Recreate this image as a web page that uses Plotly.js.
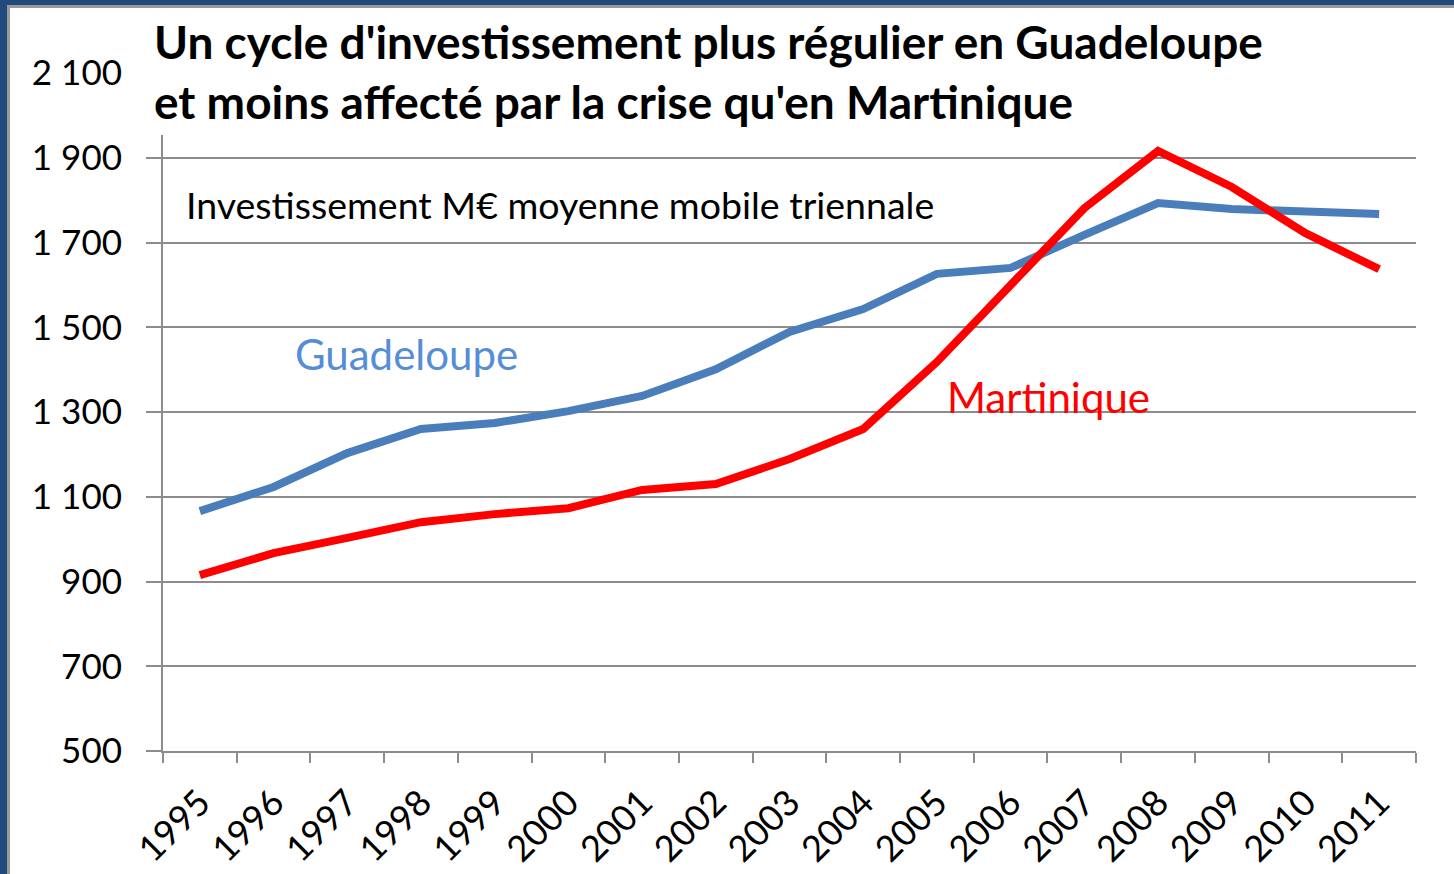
<!DOCTYPE html>
<html>
<head>
<meta charset="utf-8">
<script src="https://cdn.plot.ly/plotly-3.0.1.min.js"></script>
<style>
html,body{margin:0;padding:0;background:#fff;}
#chart{width:1454px;height:874px;}
</style>
</head>
<body>
<div id="chart"></div>
<script>
var years = ['1995','1996','1997','1998','1999','2000','2001','2002','2003','2004','2005','2006','2007','2008','2009','2010','2011'];
var guadeloupe = [1066,1123,1203,1260,1274,1302,1338,1401,1489,1543,1626,1640,1718,1793,1779,1772,1767];
var martinique = [915,967,1003,1040,1059,1073,1116,1130,1189,1260,1418,1597,1781,1916,1831,1722,1637];
var titleText = "Un cycle d'investissement plus régulier en Guadeloupe<br>et moins affecté par la crise qu'en Martinique";
var subText = "Investissement M€ moyenne mobile triennale";

var W = 1454, H = 874, L = 163, R = 38, T = 73, B = 123;
var pw = W - L - R, ph = H - T - B;
function px(x){ return (x - L) / pw; }
function py(y){ return (H - B - y) / ph; }

var font = 'Lato, "Open Sans", sans-serif';
var grey = '#8c8c8c';

var traces = [
  {x: years, y: guadeloupe, type: 'scatter', mode: 'lines', name: 'Guadeloupe',
   line: {color: '#4a7ebb', width: 8}},
  {x: years, y: martinique, type: 'scatter', mode: 'lines', name: 'Martinique',
   line: {color: '#ff0000', width: 8}}
];

var layout = {
  width: W, height: H,
  margin: {l: L, r: R, t: T, b: B},
  paper_bgcolor: '#fff', plot_bgcolor: '#fff',
  showlegend: false,
  separators: ', ',
  font: {family: font, color: '#000', size: 34},
  xaxis: {
    type: 'category', range: [-0.5, 16.5], tickson: 'boundaries',
    showgrid: false, showline: true, linecolor: grey, linewidth: 2,
    ticks: 'outside', ticklen: 10, tickcolor: grey, tickwidth: 2,
    ticklabelstandoff: 14,
    tickangle: -45, tickfont: {family: font, size: 36, color: '#000'},
    fixedrange: true
  },
  yaxis: {
    range: [500, 2100], dtick: 200, tick0: 500, separatethousands: true,
    showgrid: true, gridcolor: grey, gridwidth: 2,
    showline: true, linecolor: grey, linewidth: 2,
    ticks: 'outside', ticklen: 15, tickcolor: grey, tickwidth: 2,
    ticklabelstandoff: 17,
    tickfont: {family: font, size: 35, color: '#000'},
    zeroline: false, fixedrange: true
  },
  shapes: [
    {type: 'rect', xref: 'paper', yref: 'paper', layer: 'above',
     x0: px(140), x1: px(1261), y0: py(135), y1: py(11),
     fillcolor: '#fff', line: {width: 0}},
    {type: 'rect', xref: 'paper', yref: 'paper', layer: 'above',
     x0: px(0), x1: px(W), y0: py(0), y1: py(5),
     fillcolor: '#214a7d', line: {width: 0}},
    {type: 'rect', xref: 'paper', yref: 'paper', layer: 'above',
     x0: px(0), x1: px(7), y0: py(0), y1: py(H),
     fillcolor: '#214a7d', line: {width: 0}},
    {type: 'rect', xref: 'paper', yref: 'paper', layer: 'above',
     x0: px(7), x1: px(W), y0: py(5), y1: py(8),
     fillcolor: '#9a9a9a', line: {width: 0}},
    {type: 'rect', xref: 'paper', yref: 'paper', layer: 'above',
     x0: px(7), x1: px(10), y0: py(5), y1: py(H),
     fillcolor: '#9a9a9a', line: {width: 0}}
  ],
  annotations: [
    {xref: 'paper', yref: 'paper', x: px(152), y: py(71), xanchor: 'left', yanchor: 'middle',
     text: '<b>' + titleText + '</b>', showarrow: false, align: 'left',
     font: {family: font, size: 46, color: '#000'}},
    {xref: 'paper', yref: 'paper', x: px(184), y: py(204), xanchor: 'left', yanchor: 'middle',
     text: subText, showarrow: false, font: {family: font, size: 37.5, color: '#000'}},
    {xref: 'paper', yref: 'paper', x: px(293), y: py(354), xanchor: 'left', yanchor: 'middle',
     text: 'Guadeloupe', showarrow: false, font: {family: font, size: 42, color: '#558ed5'}},
    {xref: 'paper', yref: 'paper', x: px(945), y: py(397), xanchor: 'left', yanchor: 'middle',
     text: 'Martinique', showarrow: false, font: {family: font, size: 42, color: '#ff0000'}}
  ]
};

Plotly.newPlot('chart', traces, layout, {displayModeBar: false, staticPlot: true});
</script>
</body>
</html>
